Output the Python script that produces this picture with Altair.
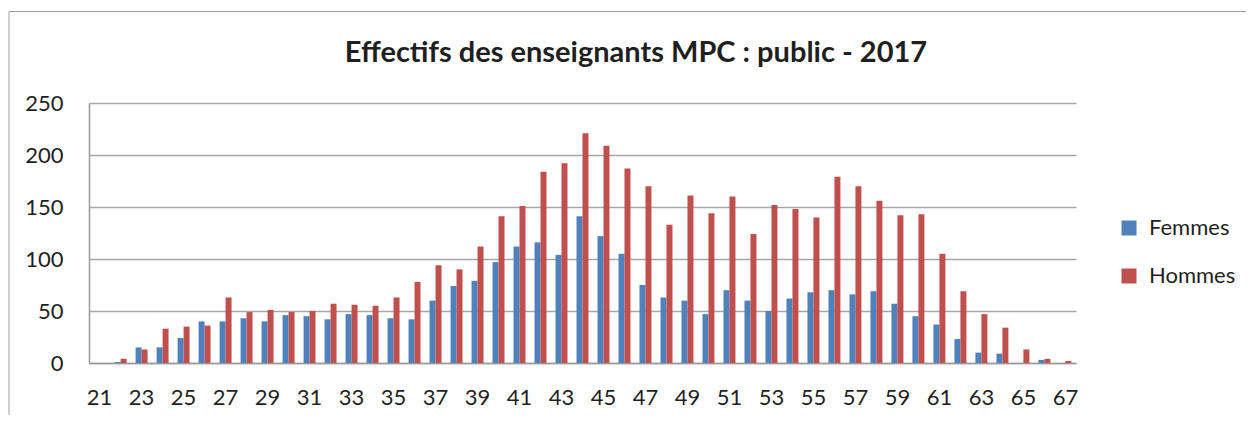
import altair as alt
import pandas as pd

ages = list(range(21, 68))
femmes = [0, 1, 15, 15, 24, 40, 40, 43, 40, 46, 45, 42, 47, 46, 43, 42,
          60, 74, 79, 97, 112, 116, 104, 141, 122, 105, 75, 63, 60, 47, 70,
          60, 50, 62, 68, 70, 66, 69, 57, 45, 37, 23, 10, 9, 0, 3, 0]
hommes = [0, 4, 13, 33, 35, 36, 63, 49, 51, 49, 50, 57, 56, 55, 63, 78,
          94, 90, 112, 141, 151, 184, 192, 221, 209, 187, 170, 133, 161, 144, 160,
          124, 152, 148, 140, 179, 170, 156, 142, 143, 105, 69, 47, 34, 13, 4, 2]
series = ["Femmes", "Hommes"]
colors = ["#4F81BD", "#C0504D"]
title_text = "Effectifs des enseignants MPC : public - 2017"

rows = []
for a, f, h in zip(ages, femmes, hommes):
    rows.append({"age": str(a), "serie": "Femmes", "val": f})
    rows.append({"age": str(a), "serie": "Hommes", "val": h})
df = pd.DataFrame(rows)

FONT = "Lato"
TXT = "#1f1f1f"

bars = alt.Chart(df).mark_bar().encode(
    x=alt.X("age:N", sort=[str(a) for a in ages],
            scale=alt.Scale(paddingInner=0.43, paddingOuter=0.22),
            axis=alt.Axis(title=None, labelAngle=0, values=[str(a) for a in ages if a % 2 == 1],
                          ticks=False, labelPadding=24, labelFontSize=22, labelColor=TXT,
                          domainColor="#9a9a9a", domainWidth=1.5, labelFont=FONT)),
    xOffset=alt.XOffset("serie:N", sort=series),
    y=alt.Y("val:Q", scale=alt.Scale(domain=[0, 250]),
            axis=alt.Axis(title=None, values=[0, 50, 100, 150, 200, 250], ticks=False,
                          labelPadding=26, labelFontSize=22, labelColor=TXT,
                          gridColor="#a6a6a6", gridWidth=1.5, domainColor="#9a9a9a",
                          domainWidth=1.5, labelFont=FONT)),
    color=alt.Color("serie:N", sort=series,
                    scale=alt.Scale(domain=series, range=colors),
                    legend=alt.Legend(title=None, orient="none", legendX=1029, legendY=114,
                                      symbolType="square", symbolSize=225, symbolStrokeWidth=0,
                                      labelFontSize=22, labelFont=FONT, labelColor=TXT,
                                      rowPadding=26, labelOffset=9)),
)

one = pd.DataFrame({"t": [title_text]})
title = alt.Chart(one).mark_text(font=FONT, fontSize=29, fontWeight="bold", color=TXT,
                                 align="center", baseline="alphabetic").encode(
    text="t:N", x=alt.value(547), y=alt.value(-41))

frame_top = alt.Chart(one).mark_rule(color="#a0a0a0", strokeWidth=1).encode(
    x=alt.value(-80), x2=alt.value(1170), y=alt.value(-91.5))
frame_left = alt.Chart(one).mark_rule(color="#a0a0a0", strokeWidth=1).encode(
    x=alt.value(-80), y=alt.value(-91.5), y2=alt.value(320))

chart = alt.layer(bars, title, frame_top, frame_left).properties(
    width=987, height=260,
    autosize=alt.AutoSizeParams(type="none"),
    padding={"left": 81, "top": 95, "right": 170, "bottom": 52},
).configure_view(stroke=None)

chart.save("out.html", embed_options={"renderer": "svg", "actions": False})
